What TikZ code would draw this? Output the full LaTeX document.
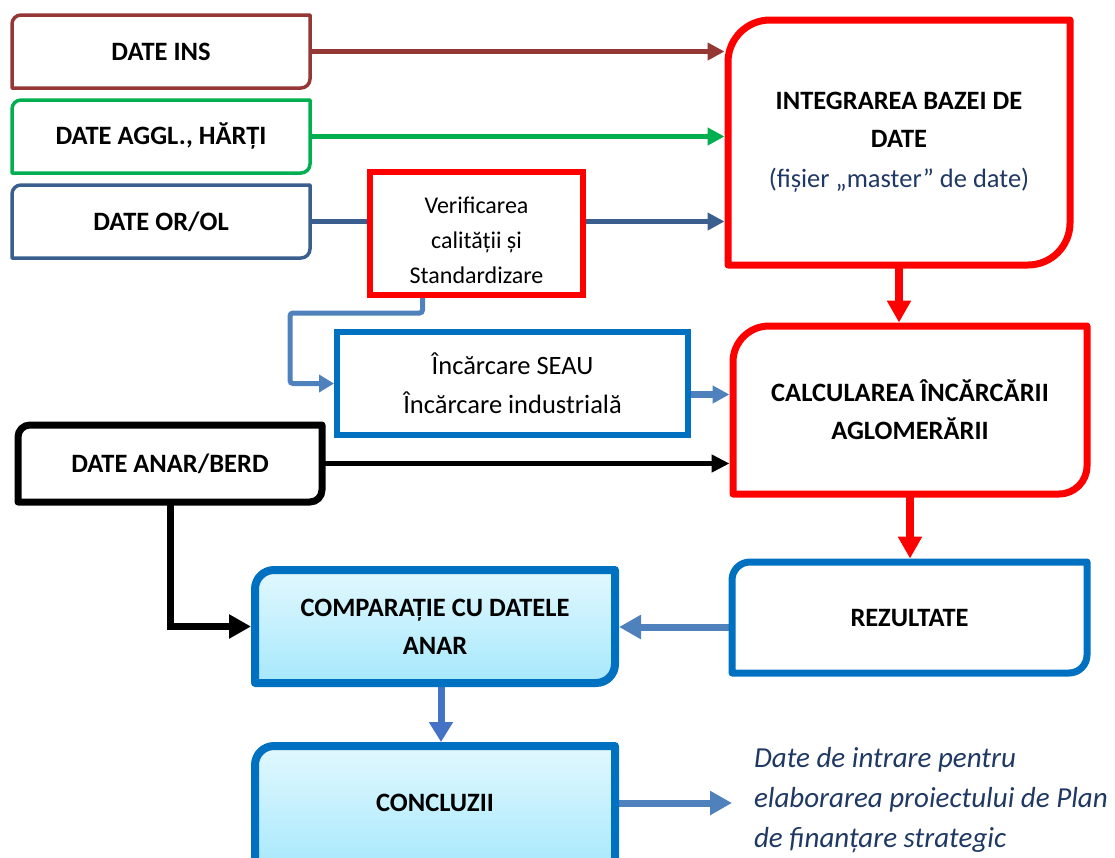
\documentclass[tikz,border=0pt]{standalone}
\usepackage{fontspec}
\setmainfont{Carlito}
\usetikzlibrary{arrows.meta,shadows}

\definecolor{insred}{HTML}{953735}
\definecolor{agglgreen}{HTML}{00B050}
\definecolor{orblue}{HTML}{3A5F8F}
\definecolor{boxred}{HTML}{FF0000}
\definecolor{boxblue}{HTML}{0070C0}
\definecolor{linkblue}{HTML}{4F81BD}
\definecolor{downblue}{HTML}{4472C4}
\definecolor{navy}{HTML}{1F3864}
\definecolor{gradtop}{HTML}{E2F8FE}
\definecolor{gradbot}{HTML}{A6E8FC}

\pgfdeclarelayer{conn}
\pgfdeclarelayer{background}
\pgfsetlayers{conn,background,main}

% outline with rounded top-left (#3) and bottom-right (#4) corners
\newcommand\dgbox[4]{%
  \path[line join=round,#1] (#2.south west) -- ([yshift=-#3]#2.north west)
    arc[start angle=180,end angle=90,radius=#3] -- (#2.north east)
    -- ([yshift=#4]#2.south east)
    arc[start angle=0,end angle=-90,radius=#4] -- cycle;}

\begin{document}
\begin{tikzpicture}[x=1pt,y=-1pt,
  boldtxt/.style={inner sep=0pt, outer sep=0pt, align=center,
    font=\bfseries\fontsize{26.5}{38}\selectfont},
  regtxt/.style={inner sep=0pt, outer sep=0pt, align=center,
    font=\fontsize{26.5}{39}\selectfont},
  smalltxt/.style={inner sep=0pt, outer sep=0pt, align=center,
    font=\fontsize{24}{35}\selectfont},
  notetxt/.style={inner sep=0pt, outer sep=0pt, align=left, text=navy,
    font=\itshape\fontsize{29}{40}\selectfont},
  tipS/.style={-{Triangle[length=17pt,width=17pt]}},
  tipL/.style={-{Triangle[length=22pt,width=23pt]}},
  shade box/.style={top color=gradtop, bottom color=gradbot,
    drop shadow={shadow xshift=2pt, shadow yshift=-3pt, opacity=0.3, fill=black!60}}]
\useasboundingbox (0,0) rectangle (1115,857);

% ---- nodes (text) ----
\node[boldtxt, minimum width=298, minimum height=73] (ins) at (161,51.5) {DATE INS};
\node[boldtxt, minimum width=298, minimum height=73] (aggl) at (161,136.5) {DATE AGGL., HĂRȚI};
\node[boldtxt, minimum width=298, minimum height=73] (oror) at (161,221.5) {DATE OR/OL};
\node[smalltxt, minimum width=213, minimum height=123] (verif) at (476.5,233.5)
  {\\[-4pt]Verificarea\\calității și\\Standardizare};
\node[boldtxt, minimum width=342, minimum height=245] (integ) at (899,142.5)
  {INTEGRAREA BAZEI DE\\DATE\\[2pt]{\mdseries\color{navy}(fișier „master” de date)}};
\node[regtxt, minimum width=351, minimum height=103] (incarc) at (512.5,383.5)
  {Încărcare SEAU\\Încărcare industrială};
\node[boldtxt, minimum width=354, minimum height=168] (calc) at (910,410)
  {CALCULAREA ÎNCĂRCĂRII\\AGLOMERĂRII};
\node[boldtxt, minimum width=304, minimum height=77] (anar) at (170,463.5) {DATE ANAR/BERD};
\node[boldtxt, minimum width=355, minimum height=111] (rez) at (909.5,617.5) {REZULTATE};
\node[boldtxt, minimum width=360, minimum height=113] (comp) at (435,626.5)
  {COMPARAȚIE CU DATELE\\ANAR};
\node[boldtxt, minimum width=360, minimum height=114] (concl) at (435,803) {CONCLUZII};
\node[notetxt, anchor=west] (note) at (754,800)
  {Date de intrare pentru\\elaborarea proiectului de Plan\\de finanțare strategic};

% ---- box outlines ----
\begin{pgfonlayer}{background}
\dgbox{draw=insred, line width=3.5pt}{ins}{9pt}{9pt}
\dgbox{draw=agglgreen, line width=3.5pt}{aggl}{9pt}{9pt}
\dgbox{draw=orblue, line width=3.5pt}{oror}{9pt}{9pt}
\draw[boxred, line width=6pt, fill=white] (verif.south west) rectangle (verif.north east);
\dgbox{draw=boxred, line width=7pt}{integ}{42pt}{42pt}
\draw[boxblue, line width=6pt] (incarc.south west) rectangle (incarc.north east);
\dgbox{draw=boxred, line width=7pt}{calc}{36pt}{28pt}
\dgbox{draw=black, line width=7pt}{anar}{12pt}{12pt}
\dgbox{draw=boxblue, line width=7pt}{rez}{18pt}{18pt}
\dgbox{draw=boxblue, line width=8pt, shade box}{comp}{19pt}{19pt}
% the lower edge of this box runs past the bottom of the page
\path[draw=boxblue, line width=8pt, line join=round, shade box]
  ([yshift=-12pt]concl.south west) -- ([yshift=-19pt]concl.north west)
  arc[start angle=180,end angle=90,radius=19pt] -- (concl.north east)
  -- ([yshift=-12pt]concl.south east) -- cycle;
\end{pgfonlayer}

% ---- connectors ----
\begin{pgfonlayer}{conn}
\draw[insred, line width=5pt, tipS, shorten >=3.5pt] (ins.east) -- (ins.east -| integ.west);
\draw[agglgreen, line width=5pt, tipS, shorten >=3.5pt] (aggl.east) -- (aggl.east -| integ.west);
\draw[orblue, line width=5.5pt] (oror.east) -- (oror.east -| verif.west);
\draw[orblue, line width=5.5pt, tipS, shorten >=3.5pt] (oror.east -| verif.east) -- (oror.east -| integ.west);
\coordinate (bend) at (290,313);
\draw[linkblue, line width=5pt, rounded corners=3pt, -{Triangle[length=15pt,width=17pt]}, shorten >=3pt]
  ([xshift=-54pt]verif.south) |- (bend) |- (incarc.west);
\draw[linkblue, line width=7pt, tipS, shorten >=3.5pt] ([yshift=-11pt]incarc.east) -- ([yshift=-11pt]incarc.east -| calc.west);
\draw[boxred, line width=7.5pt, -{Triangle[length=22pt,width=23pt]}, shorten >=3.5pt] (integ.south) -- (integ.south |- calc.north);
\draw[black, line width=5.5pt, -{Triangle[length=18pt,width=17pt]}, shorten >=3.5pt] (anar.east) -- (anar.east -| calc.west);
\draw[boxred, line width=7.5pt, -{Triangle[length=22pt,width=23pt]}, shorten >=3.5pt] (calc.south) -- (calc.south |- rez.north);
\draw[linkblue, line width=7pt, tipL, shorten >=4pt] ([yshift=-9.5pt]rez.west) -- ([yshift=-9.5pt]rez.west -| comp.east);
\draw[black, line width=7pt, tipL, shorten >=4pt] (anar.south) |- (comp.west);
\draw[downblue, line width=7pt, -{Triangle[length=20pt,width=23pt]}, shorten >=4pt] ([xshift=6pt]comp.south) -- ([xshift=6pt]comp.south |- concl.north);
\draw[linkblue, line width=7pt, tipL, shorten >=22pt] (concl.east) -- (concl.east -| note.west);
\end{pgfonlayer}
\end{tikzpicture}
\end{document}
